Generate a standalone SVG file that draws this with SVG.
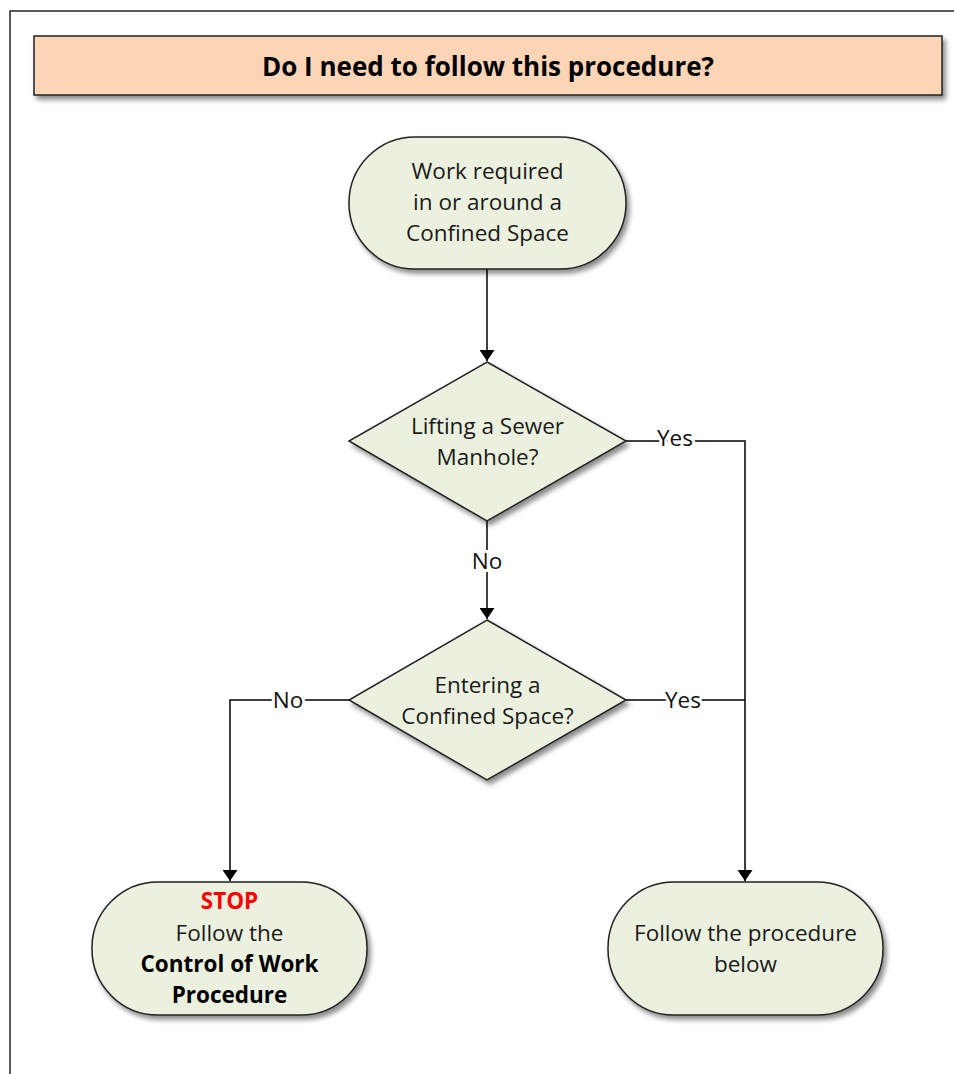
<svg xmlns="http://www.w3.org/2000/svg" width="954" height="1074" viewBox="0 0 954 1074">
<defs>
<filter id="sh" x="-10%" y="-10%" width="125%" height="130%">
<feDropShadow dx="3" dy="4" stdDeviation="2.5" flood-color="#000" flood-opacity="0.45"/>
</filter>
<marker id="ah" viewBox="0 0 11 15" refX="11" refY="7.5" markerWidth="11" markerHeight="15" markerUnits="userSpaceOnUse" orient="auto">
<path d="M0,0 L11,7.5 L0,15 Z" fill="#000"/>
</marker>
<style>
.t{font-family:"Open Sans","Liberation Sans",sans-serif;font-size:22.5px;fill:#1a1a1a;text-anchor:middle;}
.b{font-weight:bold;fill:#000;}
.node{fill:#ebf1de;stroke:#222;stroke-width:1.5;filter:url(#sh);}
.ln{fill:none;stroke:#000;stroke-width:1.5;}
.lbl{font-family:"Open Sans","Liberation Sans",sans-serif;font-size:22.5px;fill:#111;text-anchor:middle;paint-order:stroke;stroke:#fff;stroke-width:6px;}
</style>
</defs>
<rect width="954" height="1074" fill="#fff"/>
<path d="M10,1074 L10,11 L954,11" fill="none" stroke="#222" stroke-width="1.5"/>
<g id="title">
<rect x="34" y="36" width="908" height="59" fill="#fbd5b5" stroke="#222" stroke-width="1.5" filter="url(#sh)"/>
<text class="t b" x="488" y="76" style="font-size:26px">Do I need to follow this procedure?</text>
</g>
<g id="connectors">
<path class="ln" d="M487,269 L487,361" marker-end="url(#ah)"/>
<path class="ln" d="M487,521 L487,619" marker-end="url(#ah)"/>
<path class="ln" d="M626,441 L745,441 L745,881" marker-end="url(#ah)"/>
<path class="ln" d="M626,700 L745,700"/>
<path class="ln" d="M349,700 L230,700 L230,881" marker-end="url(#ah)"/>
<text class="lbl" x="675" y="446">Yes</text>
<text class="lbl" x="487" y="569">No</text>
<text class="lbl" x="683" y="708">Yes</text>
<text class="lbl" x="288" y="708">No</text>
</g>
<g id="start">
<rect class="node" x="349" y="137" width="277" height="132" rx="66" ry="66"/>
<text class="t" x="487.5" y="179">Work required</text>
<text class="t" x="487.5" y="210">in or around a</text>
<text class="t" x="487.5" y="241">Confined Space</text>
</g>
<g id="q1">
<path class="node" d="M487,362 L626,441 L487,521 L349,441 Z"/>
<text class="t" x="487.5" y="434">Lifting a Sewer</text>
<text class="t" x="487.5" y="465">Manhole?</text>
</g>
<g id="q2">
<path class="node" d="M487,620 L626,700 L487,780 L349,700 Z"/>
<text class="t" x="487.5" y="693">Entering a</text>
<text class="t" x="487.5" y="724">Confined Space?</text>
</g>
<g id="stop">
<rect class="node" x="92" y="882" width="275" height="133" rx="66" ry="66"/>
<text class="t b" x="229.5" y="909" style="fill:#ff0000">STOP</text>
<text class="t" x="229.5" y="941">Follow the</text>
<text class="t b" x="229.5" y="972">Control of Work</text>
<text class="t b" x="229.5" y="1003">Procedure</text>
</g>
<g id="follow">
<rect class="node" x="608" y="882" width="275" height="133" rx="66" ry="66"/>
<text class="t" x="745.5" y="941">Follow the procedure</text>
<text class="t" x="745.5" y="972">below</text>
</g>
</svg>
